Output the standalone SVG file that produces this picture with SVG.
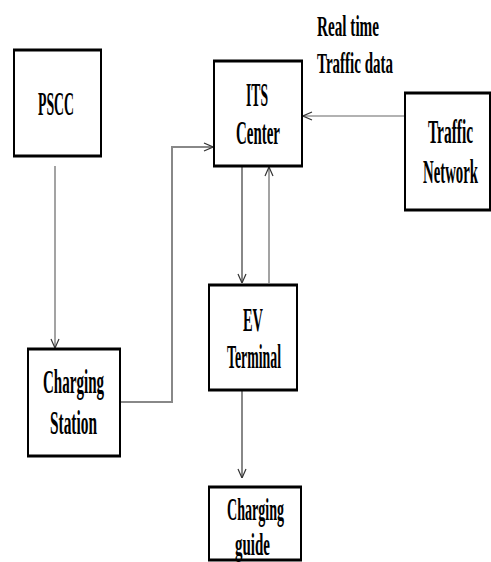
<svg xmlns="http://www.w3.org/2000/svg" width="491" height="562" viewBox="0 0 491 562">
<style>
.box{fill:#fff;stroke:#000;stroke-width:2}
.edge{stroke:#000;stroke-width:3}
.t{font-family:"Liberation Serif","Times New Roman",serif;font-weight:bold;font-size:34px;fill:#000}
.lbl{font-size:30px}
.sm{font-size:31px}
.c{fill:none;stroke:#666;stroke-width:1.2}
.c2{fill:none;stroke:#888;stroke-width:2}
</style>
<defs>
<marker id="ah" viewBox="0 0 10 10" refX="10" refY="5" markerWidth="10" markerHeight="10" markerUnits="userSpaceOnUse" orient="auto">
<path d="M1,1 L10,5 L1,9" fill="none" stroke="#333" stroke-width="1.2"/>
</marker>
</defs>
<rect width="491" height="562" fill="#fff"/>
<g id="connectors">
<line class="c" x1="55" y1="166" x2="55" y2="348" marker-end="url(#ah)"/>
<polyline class="c2" points="120,402 172,402 172,147 213,147" marker-end="url(#ah)"/>
<line class="c" x1="404" y1="116" x2="303" y2="116" marker-end="url(#ah)"/>
<line class="c2" x1="242" y1="167" x2="242" y2="283" marker-end="url(#ah)"/>
<line class="c" x1="269" y1="283" x2="269" y2="167" marker-end="url(#ah)"/>
<line class="c2" x1="242" y1="391" x2="242" y2="478" marker-end="url(#ah)"/>
</g>
<g id="pscc">
<rect class="box" x="14" y="50" width="87" height="106"/>
<line class="edge" x1="13" y1="50" x2="102" y2="50"/><line class="edge" x1="13" y1="156" x2="102" y2="156"/>
<text class="t" transform="translate(38,115) scale(0.43,1)" textLength="83.7" lengthAdjust="spacingAndGlyphs">PSCC</text>
</g>
<g id="its">
<rect class="box" x="214" y="61" width="88" height="105"/>
<line class="edge" x1="213" y1="61" x2="303" y2="61"/><line class="edge" x1="213" y1="166" x2="303" y2="166"/>
<text class="t" transform="translate(246,106) scale(0.43,1)" textLength="51.2" lengthAdjust="spacingAndGlyphs">ITS</text>
<text class="t" transform="translate(236,144) scale(0.43,1)" textLength="102.3" lengthAdjust="spacingAndGlyphs">Center</text>
</g>
<g id="traffic-network">
<rect class="box" x="405" y="93" width="85" height="117"/>
<line class="edge" x1="404" y1="93" x2="491" y2="93"/><line class="edge" x1="404" y1="210" x2="491" y2="210"/>
<text class="t" transform="translate(428,143) scale(0.43,1)" textLength="104.7" lengthAdjust="spacingAndGlyphs">Traffic</text>
<text class="t" transform="translate(423,183) scale(0.43,1)" textLength="127.9" lengthAdjust="spacingAndGlyphs">Network</text>
</g>
<g id="label-realtime">
<text class="t lbl" transform="translate(317,36) scale(0.5,1)" textLength="124" lengthAdjust="spacingAndGlyphs">Real time</text>
<text class="t lbl" transform="translate(317,73) scale(0.5,1)" textLength="152" lengthAdjust="spacingAndGlyphs">Traffic data</text>
</g>
<g id="charging-station">
<rect class="box" x="28" y="349" width="92" height="107"/>
<line class="edge" x1="27" y1="349" x2="121" y2="349"/><line class="edge" x1="27" y1="456" x2="121" y2="456"/>
<text class="t" transform="translate(43,393) scale(0.43,1)" textLength="141.9" lengthAdjust="spacingAndGlyphs">Charging</text>
<text class="t" transform="translate(50,434) scale(0.43,1)" textLength="109.3" lengthAdjust="spacingAndGlyphs">Station</text>
</g>
<g id="ev-terminal">
<rect class="box" x="209" y="285" width="88" height="105"/>
<line class="edge" x1="208" y1="285" x2="298" y2="285"/><line class="edge" x1="208" y1="390" x2="298" y2="390"/>
<text class="t" transform="translate(243,331) scale(0.43,1)" textLength="46.5" lengthAdjust="spacingAndGlyphs">EV</text>
<text class="t" transform="translate(227,368) scale(0.43,1)" textLength="125.6" lengthAdjust="spacingAndGlyphs">Terminal</text>
</g>
<g id="charging-guide">
<rect class="box" x="209" y="487" width="92" height="73"/>
<line class="edge" x1="208" y1="487" x2="302" y2="487"/>
<text class="t sm" transform="translate(227,520) scale(0.43,1)" textLength="132.6" lengthAdjust="spacingAndGlyphs">Charging</text>
<text class="t sm" transform="translate(235,555) scale(0.43,1)" textLength="81.4" lengthAdjust="spacingAndGlyphs">guide</text>
<line class="edge" x1="208" y1="560" x2="302" y2="560"/>
</g>
</svg>
